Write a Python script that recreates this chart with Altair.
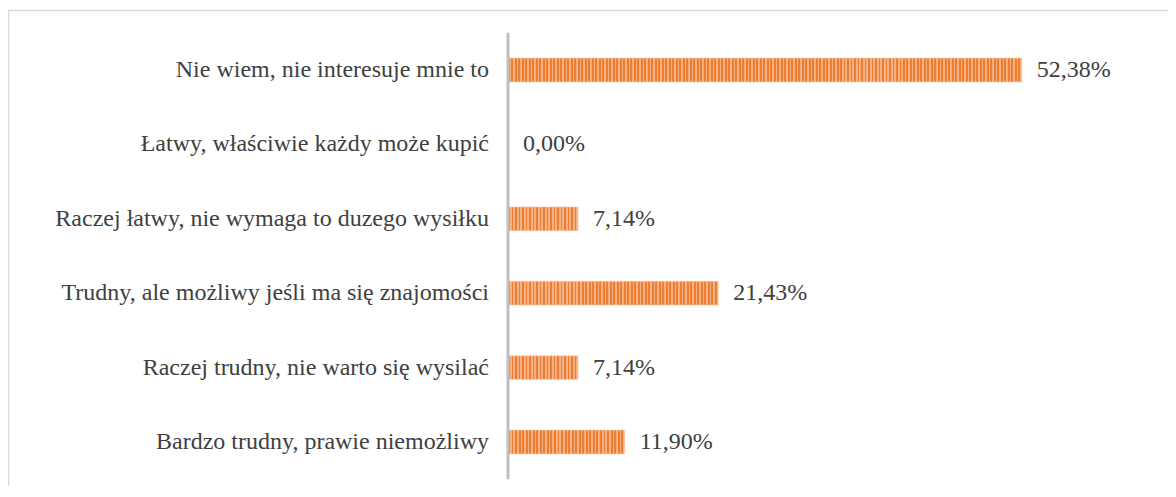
import altair as alt
import pandas as pd

categories = [
    "Nie wiem, nie interesuje mnie to",
    "Łatwy, właściwie każdy może kupić",
    "Raczej łatwy, nie wymaga to duzego wysiłku",
    "Trudny, ale możliwy jeśli ma się znajomości",
    "Raczej trudny, nie warto się wysilać",
    "Bardzo trudny, prawie niemożliwy",
]
values = [52.38, 0.00, 7.14, 21.43, 7.14, 11.90]

df = pd.DataFrame({"cat": categories, "val": values})
df["lbl"] = [f"{v:.2f}".replace(".", ",") + "%" for v in values]
df["zero"] = 0.0

W, H = 1160, 478
zero_px = 500
ppu = 9.81
xdom = [-zero_px / ppu, (W - zero_px) / ppu]

xs = alt.Scale(domain=xdom, zero=False, nice=False)
ys = alt.Scale(domain=categories, range=[24.8, 471.2], paddingInner=0.68, paddingOuter=0.34)

Y = alt.Y("cat:N", scale=ys, axis=None, sort=categories)

font = "Liberation Serif"
fs = 24
txt_color = "#404040"
dark, light = "#EE7D31", "#F6B183"
period_px = 3.5

base = alt.Chart(df)


def stripes(width_px):
    n = max(1, round(width_px / period_px))
    stops = []
    for i in range(n):
        a, m, b = i / n, (i + 0.55) / n, (i + 1) / n
        stops += [
            {"offset": a, "color": dark},
            {"offset": m, "color": dark},
            {"offset": m, "color": light},
            {"offset": b, "color": light},
        ]
    return {"gradient": "linear", "x1": 0, "x2": 1, "y1": 0, "y2": 0, "stops": stops}


bar_layers = []
for c, v in zip(categories, values):
    if v <= 0:
        continue
    bar_layers.append(
        base.transform_filter(alt.datum.cat == c)
        .mark_bar(color=stripes(v * ppu), stroke="#F9CDAE", strokeWidth=0.6)
        .encode(x=alt.X("zero:Q", scale=xs, axis=None), x2="val:Q", y=Y)
    )

vals = base.mark_text(align="left", baseline="middle", dx=15, font=font,
                      fontSize=fs, color=txt_color).encode(
    x=alt.X("val:Q", scale=xs, axis=None), y=Y, text="lbl:N"
)

cats = base.mark_text(align="right", baseline="middle", dx=-19, font=font,
                      fontSize=fs, color=txt_color).encode(
    x=alt.X("zero:Q", scale=xs, axis=None), y=Y, text="cat:N"
)

one = alt.Chart(df.head(1))
axis_line = one.mark_rule(color="#BFBFBF", strokeWidth=3).encode(
    x=alt.X("zero:Q", scale=xs, axis=None), y=alt.value(24.8), y2=alt.value(471.2)
)

border_left = one.mark_rule(color="#D9D9D9", strokeWidth=1.5).encode(
    x=alt.value(0.5), y=alt.value(2.5), y2=alt.value(H + 20)
)
border_top = one.mark_rule(color="#D9D9D9", strokeWidth=1.5).encode(
    x=alt.value(0.5), x2=alt.value(W + 20), y=alt.value(2.5)
)

chart = alt.layer(border_left, border_top, *bar_layers, axis_line, cats, vals).properties(
    width=W, height=H, padding=0, autosize=alt.AutoSizeParams(type="none"),
    background="white"
).configure_view(stroke=None)

chart.save("out.html", embed_options={"renderer": "svg", "actions": False})
